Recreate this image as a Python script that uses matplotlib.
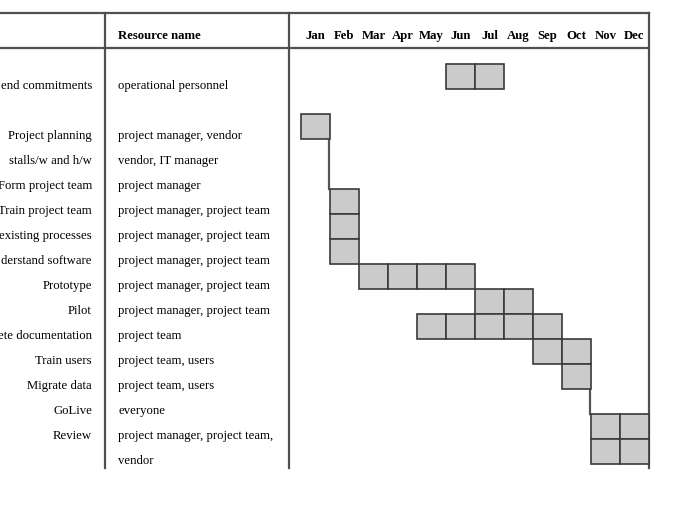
import matplotlib.pyplot as plt
import numpy as np

plt.rcParams['font.family'] = ['Liberation Serif', 'DejaVu Serif']

months = ["Jan", "Feb", "Mar", "Apr", "May", "Jun", "Jul", "Aug", "Sep", "Oct", "Nov", "Dec"]

# visible text of each row (the left edge of the picture cuts some task names)
tasks = ["end commitments", "", "Project planning", "stalls/w and h/w", "Form project team",
         "Train project team", "existing processes", "derstand software", "Prototype", "Pilot",
         "ete documentation", "Train users", "Migrate data", "GoLive", "Review", ""]
resources = ["operational personnel", "", "project manager, vendor", "vendor, IT manager",
             "project manager", "project manager, project team", "project manager, project team",
             "project manager, project team", "project manager, project team",
             "project manager, project team", "project team", "project team, users",
             "project team, users", "everyone", "project manager, project team,", "vendor"]

# active months (0 = Jan) for each row
active = [[5, 6], [], [0], [], [], [1], [1], [1], [2, 3, 4, 5], [6, 7],
          [4, 5, 6, 7, 8], [8, 9], [9], [], [10, 11], [10, 11]]

# dependency connectors: (month boundary, from row, to row)
links = [(0.95, 3, 5), (9.95, 13, 14)]

fig = plt.figure(figsize=(7, 5.16), dpi=100)
ax = fig.add_axes([0, 0, 1, 1])
ax.set_xlim(-301 / 29, (700 - 301) / 29)
ax.set_ylim((516 - 64) / 25, -64 / 25)
ax.axis('off')

# month cells
for row, ms in enumerate(active):
    if ms:
        ax.bar(ms, 1, bottom=row, width=1, align='edge', color='#cbcbcb',
               edgecolor='#3a3a3a', linewidth=1.2, zorder=3)

for x, r0, r1 in links:
    ax.plot([x, x], [r0, r1], color='#555555', lw=1.6, zorder=2)

# table frame
x_name, x_res, x_gantt, x_end = -7.21, -6.76, -0.414, 12.0
y_top, y_head, y_bot = -2.04, -0.64, 16.16
line = dict(color='#505050', lw=1.6, zorder=1)
ax.plot([-11, x_end], [y_top, y_top], **line)
ax.plot([-11, x_end], [y_head, y_head], **line)
for x in (x_res, x_gantt, x_end):
    ax.plot([x, x], [y_top, y_bot], **line)

fs = 9.2
# header
ax.text(-6.31, -1.12, "Resource name", fontsize=fs, fontweight='bold', va='center', ha='left')
for i, m in enumerate(months):
    ax.text(i + 0.5, -1.12, m, fontsize=fs, fontweight='bold', va='center', ha='center')

# row labels
for row, (t, r) in enumerate(zip(tasks, resources)):
    ax.text(x_name, row + 0.88, t, fontsize=fs, va='center', ha='right')
    ax.text(-6.31, row + 0.88, r, fontsize=fs, va='center', ha='left')

fig.savefig("out.png", dpi=100)
